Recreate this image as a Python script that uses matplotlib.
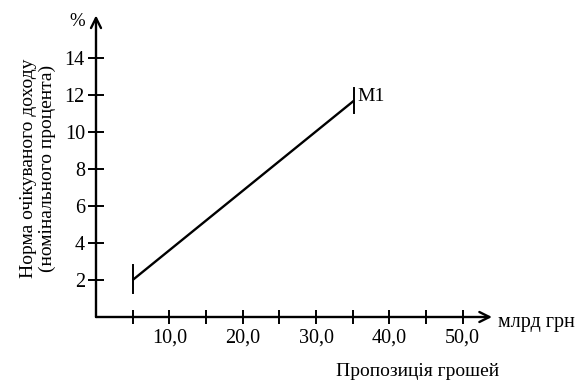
import matplotlib
matplotlib.use("Agg")
import matplotlib.pyplot as plt

plt.rcParams['font.family'] = ['Liberation Serif', 'DejaVu Serif']

# data
line_x = [5.0, 35.2]
line_y = [2.0, 11.7]
bar_start = [1.3, 2.8]
bar_end = [11.0, 12.4]
x_ticks = [5, 10, 15, 20, 25, 30, 35, 40, 45, 50]
x_labels = ["", "10,0", "", "20,0", "", "30,0", "", "40,0", "", "50,0"]
y_ticks = [2, 4, 6, 8, 10, 12, 14]
y_labels = ["2", "4", "6", "8", "10", "12", "14"]
curve_label = "M1"

fig = plt.figure(figsize=(5.87, 3.89), dpi=100)
W, H = 587, 389
x0, y0, x1, y1 = 96, 317, 492, 15.4
ax = fig.add_axes([x0 / W, (H - y0) / H, (x1 - x0) / W, (y0 - y1) / H])
ax.set_xlim(0, 54)
ax.set_ylim(0, 16.3)
for s in ['top', 'right', 'left', 'bottom']:
    ax.spines[s].set_visible(False)

# axes with arrows
ax.annotate('', xy=(54, 0), xytext=(0, 0),
            arrowprops=dict(arrowstyle='->', lw=1.7, color='black', mutation_scale=18,
                            shrinkA=0, shrinkB=0), annotation_clip=False)
ax.annotate('', xy=(0, 16.3), xytext=(0, 0),
            arrowprops=dict(arrowstyle='->', lw=1.7, color='black', mutation_scale=18,
                            shrinkA=0, shrinkB=0), annotation_clip=False)

ax.set_xticks(x_ticks)
ax.set_xticklabels(x_labels, fontsize=14.5)
ax.set_yticks(y_ticks)
ax.set_yticklabels(y_labels, fontsize=14.5)
ax.tick_params(axis='x', direction='inout', length=10, width=1.4, pad=3)
ax.tick_params(axis='y', direction='inout', length=12, width=1.4, pad=2)

# curve
ax.plot(line_x, line_y, color='black', lw=1.7, solid_capstyle='butt')
ax.plot([line_x[0], line_x[0]], bar_start, color='black', lw=1.4)
ax.plot([line_x[1], line_x[1]], bar_end, color='black', lw=1.4)
ax.text(line_x[1] + 0.5, line_y[1] + 0.2, curve_label, fontsize=14, va='center', ha='left')

# labels
fig.text(77 / W, 1 - 21 / H, "%", fontsize=13.5, ha='center', va='center')
fig.text(498 / W, 1 - 322 / H, "млрд грн", fontsize=14.5, ha='left', va='center')
fig.text(418 / W, 1 - 371 / H, "Пропозиція грошей", fontsize=14, ha='center', va='center')
fig.text(38 / W, 1 - 168 / H, "Норма очікуваного доходу\n(номінального процента)",
         fontsize=14, ha='center', va='center', rotation=90, linespacing=1.12)

fig.savefig("out.png", dpi=100)
